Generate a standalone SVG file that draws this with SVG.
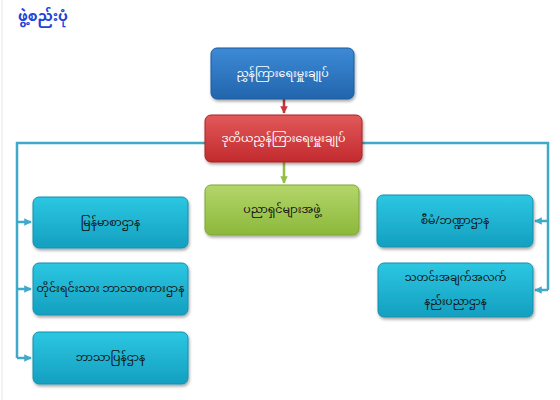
<svg xmlns="http://www.w3.org/2000/svg" width="560" height="400" viewBox="0 0 560 400">
<defs>
<style>
.t{font-family:"Noto Sans Myanmar","Padauk","Myanmar Text","Noto Sans",sans-serif;font-size:11px;fill:#111;text-anchor:middle;dominant-baseline:central}
.tw{fill:#fff}
.conn{fill:none;stroke:#3fa9c9;stroke-width:2.5}
</style>
<linearGradient id="gBlue" x1="0" y1="0" x2="0" y2="1"><stop offset="0" stop-color="#3d8ad6"/><stop offset="1" stop-color="#2265ad"/></linearGradient>
<linearGradient id="gRed" x1="0" y1="0" x2="0" y2="1"><stop offset="0" stop-color="#e2595b"/><stop offset="1" stop-color="#c22a2d"/></linearGradient>
<linearGradient id="gGreen" x1="0" y1="0" x2="0" y2="1"><stop offset="0" stop-color="#b3d66a"/><stop offset="1" stop-color="#8cb83b"/></linearGradient>
<linearGradient id="gTeal" x1="0" y1="0" x2="0" y2="1"><stop offset="0" stop-color="#2cc7e2"/><stop offset="1" stop-color="#149fc0"/></linearGradient>
<filter id="sh" x="-10%" y="-10%" width="130%" height="140%"><feDropShadow dx="1" dy="2" stdDeviation="1.5" flood-color="#000" flood-opacity="0.35"/></filter>
<marker id="aT" viewBox="0 0 10 10" refX="9" refY="5" markerWidth="3" markerHeight="3" orient="auto"><path d="M0,0 L10,5 L0,10 z" fill="#3fa9c9"/></marker>
<marker id="aR" viewBox="0 0 10 10" refX="9" refY="5" markerWidth="3" markerHeight="3" orient="auto"><path d="M0,0 L10,5 L0,10 z" fill="#c8353a"/></marker>
<marker id="aG" viewBox="0 0 10 10" refX="9" refY="5" markerWidth="3" markerHeight="3" orient="auto"><path d="M0,0 L10,5 L0,10 z" fill="#93bd45"/></marker>
</defs>
<rect x="0" y="0" width="560" height="400" fill="#fff"/>
<line x1="2" y1="0" x2="2" y2="400" stroke="#e6e6e6" stroke-width="1"/>
<text x="18" y="21" style="font-family:'Noto Sans Myanmar','Padauk','Myanmar Text','Noto Sans',sans-serif;font-size:14px;font-weight:bold;fill:#2242d8">ဖွဲ့စည်းပုံ</text>

<g id="connectors">
<path class="conn" d="M205,143 H17 V358"/>
<path class="conn" d="M17,222 H31" marker-end="url(#aT)"/>
<path class="conn" d="M17,289 H31" marker-end="url(#aT)"/>
<path class="conn" d="M17,358 H31" marker-end="url(#aT)"/>
<path class="conn" d="M362,143 H548 V290"/>
<path class="conn" d="M548,221 H535" marker-end="url(#aT)"/>
<path class="conn" d="M548,290 H535" marker-end="url(#aT)"/>
<path d="M284,99 V113" fill="none" stroke="#c8353a" stroke-width="2.5" marker-end="url(#aR)"/>
<path d="M284,162 V183" fill="none" stroke="#93bd45" stroke-width="2.5" marker-end="url(#aG)"/>
</g>

<g id="dg">
<rect x="211" y="48" width="143" height="51" rx="6" fill="url(#gBlue)" stroke="#1d5a9c" filter="url(#sh)"/>
<text class="t tw" x="282.5" y="73.5">ညွှန်ကြားရေးမှူးချုပ်</text>
</g>
<g id="ddg">
<rect x="205" y="115" width="157" height="47" rx="6" fill="url(#gRed)" stroke="#a82226" filter="url(#sh)"/>
<text class="t tw" x="283.5" y="139">ဒုတိယညွှန်ကြားရေးမှူးချုပ်</text>
</g>
<g id="experts">
<rect x="205" y="185" width="154" height="50" rx="6" fill="url(#gGreen)" stroke="#7fa535" filter="url(#sh)"/>
<text class="t" x="282" y="210">ပညာရှင်များအဖွဲ့</text>
</g>
<g id="myanmar">
<rect x="33" y="197" width="155" height="51" rx="6" fill="url(#gTeal)" stroke="#1390ad" filter="url(#sh)"/>
<text class="t" x="110.5" y="222.5">မြန်မာစာဌာန</text>
</g>
<g id="ethnic">
<rect x="33" y="263" width="155" height="52" rx="6" fill="url(#gTeal)" stroke="#1390ad" filter="url(#sh)"/>
<text class="t" x="110.5" y="289">တိုင်းရင်းသား ဘာသာစကားဌာန</text>
</g>
<g id="translation">
<rect x="33" y="332" width="155" height="52" rx="6" fill="url(#gTeal)" stroke="#1390ad" filter="url(#sh)"/>
<text class="t" x="110.5" y="358">ဘာသာပြန်ဌာန</text>
</g>
<g id="admin">
<rect x="377" y="195" width="156" height="52" rx="6" fill="url(#gTeal)" stroke="#1390ad" filter="url(#sh)"/>
<text class="t" x="455" y="221">စီမံ/ဘဏ္ဍာဌာန</text>
</g>
<g id="it">
<rect x="378" y="263" width="155" height="54" rx="6" fill="url(#gTeal)" stroke="#1390ad" filter="url(#sh)"/>
<text class="t" x="455.5" y="278" style="font-size:10.5px">သတင်းအချက်အလက်</text>
<text class="t" x="455.5" y="302" style="font-size:10.5px">နည်းပညာဌာန</text>
</g>
</svg>
